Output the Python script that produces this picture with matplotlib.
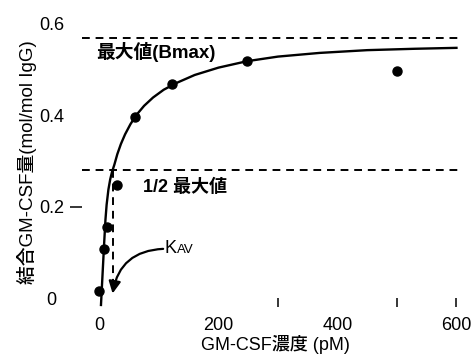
#!/usr/bin/env python3
"""GM-CSF binding saturation curve (Bmax / KAV)."""
import matplotlib
matplotlib.use("Agg")
import matplotlib.pyplot as plt

plt.rcParams["font.family"] = ["Liberation Sans", "Noto Sans CJK JP"]

# measured points: GM-CSF concentration (pM) vs bound (mol/mol IgG)
conc = [0, 7.5, 12.6, 29, 60, 122, 248, 500]
bound = [0.017, 0.109, 0.157, 0.248, 0.396, 0.467, 0.517, 0.496]

# fitted curve
fit_conc = [2.5, 4, 6, 8, 10, 12, 15, 18, 21, 25, 30, 36, 43, 52, 62, 75, 90,
            108, 130, 160, 200, 248, 300, 370, 450, 530, 600]
fit_bound = [-0.013, 0.025, 0.075, 0.125, 0.172, 0.205, 0.238, 0.26, 0.276,
             0.292, 0.315, 0.337, 0.358, 0.38, 0.40, 0.42, 0.438, 0.455, 0.47,
             0.487, 0.503, 0.517, 0.527, 0.535, 0.541, 0.544, 0.546]

bmax = 0.567
half_max = 0.28
kav = 23

xticks = [0, 200, 400, 600]
xtick_labels = ["0", "200", "400", "600"]
yticks = [0, 0.2, 0.4, 0.6]
ytick_labels = ["0", "0.2", "0.4", "0.6"]

fig = plt.figure(figsize=(4.73, 3.57), dpi=100)
ax = fig.add_axes([0.1726, 0.1393, 0.805, 0.822])

ax.plot(fit_conc, fit_bound, color="black", lw=1.7, zorder=3,
        solid_joinstyle="round")
ax.plot(conc, bound, "o", color="black", markersize=6.5, zorder=4)

dash = dict(color="black", lw=1.4, dashes=(4, 3))
ax.plot([-29, 602], [bmax, bmax], **dash)
ax.plot([-29, 602], [half_max, half_max], **dash)
ax.plot([kav, kav], [half_max, 0.02], **dash)

ax.text(-6, 0.537, "最大値(Bmax)", fontsize=13.5, fontweight="bold", va="center")
ax.text(73, 0.243, "1/2 最大値", fontsize=13, fontweight="bold", va="center")

ax.text(110, 0.109, "K", fontsize=13, va="center")
ax.annotate("AV", xy=(110, 0.109), xytext=(8.5, -0.5), textcoords="offset points",
            fontsize=9.5, va="center")
ax.annotate("", xy=(22, 0.012), xytext=(107, 0.109),
            arrowprops=dict(arrowstyle="-|>", connectionstyle="arc3,rad=0.4",
                            color="black", lw=1.6, mutation_scale=18,
                            shrinkA=0, shrinkB=0))

ax.set_xlim(-30, 610)
ax.set_ylim(-0.018, 0.62)
for s in ax.spines.values():
    s.set_visible(False)

ax.set_xticks(xticks)
ax.set_xticklabels(xtick_labels, fontsize=13)
ax.xaxis.remove_overlapping_locs = False
ax.set_xticks([300, 500, 600], minor=True)
ax.tick_params(axis="x", which="major", length=0, pad=7)
ax.tick_params(axis="x", which="minor", direction="in", length=6.5, width=1.1)

ax.set_yticks(yticks)
ax.set_yticklabels(ytick_labels, fontsize=13, ha="center")
ax.yaxis.remove_overlapping_locs = False
ax.set_yticks([0.2], minor=True)
ax.tick_params(axis="y", which="major", length=0, pad=21.5)
ax.tick_params(axis="y", which="minor", direction="out", length=8.6, width=1.1)

ax.set_xlabel("GM-CSF濃度 (pM)", fontsize=13, fontweight="medium")
ax.xaxis.set_label_coords(0.51, -0.095)
ax.set_ylabel("結合GM-CSF量(mol/mol IgG)", fontsize=13.5, fontweight="medium")
ax.yaxis.set_label_coords(-0.117, 0.495)

fig.savefig("out.png", dpi=100)
